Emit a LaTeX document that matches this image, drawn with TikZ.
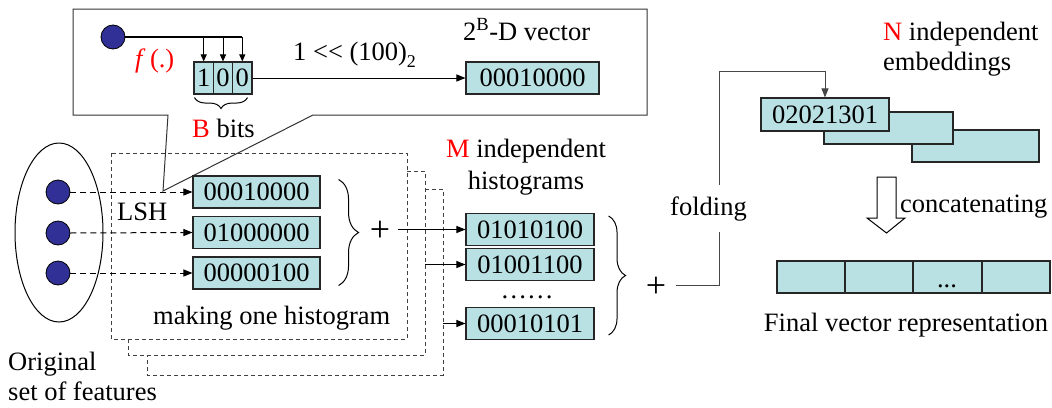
\documentclass[tikz,border=0pt]{standalone}
\usepackage{fontspec}
\setmainfont{Liberation Serif}
\usetikzlibrary{arrows.meta,decorations.pathreplacing,shapes.geometric}
\definecolor{boxfill}{RGB}{185,224,227}
\definecolor{dotblue}{RGB}{48,48,150}
\definecolor{lnk}{RGB}{70,70,70}
\begin{document}
\begin{tikzpicture}[x=1pt,y=-1pt,
  every node/.style={font=\fontsize{26.5}{30}\selectfont, inner sep=0pt},
  bitcell/.style={draw=black!85, line width=1.1pt, fill=boxfill, minimum height=32pt},
  featdot/.style={circle, draw=black, line width=0.8pt, fill=dotblue, minimum size=24pt},
  myarrow/.style={-{Triangle[length=9pt,width=7pt]}},
  smallarrow/.style={-{Triangle[length=7pt,width=6pt]}},
  dashline/.style={dash pattern=on 6pt off 4pt, line width=1pt},
  dbox/.style={dash pattern=on 4pt off 3pt, line width=1pt, draw=black!75},
  brc/.style={decorate, decoration={brace, amplitude=#1}, line width=1pt},
  brcm/.style={decorate, decoration={brace, mirror, amplitude=#1}, line width=1pt},
  basetext/.style={anchor=base west},
  plussign/.style={font=\fontsize{36}{40}\selectfont},
]
\useasboundingbox (0,0) rectangle (1052,407);

% ---------- callout ----------
\draw[line width=1pt, draw=black!80] (73,9) -- (647,9) -- (647,115) -- (313,115) -- (163,191) -- (168,115) -- (73,115) -- cycle;
\node[featdot] (c0) at (113,37) {};
\node[bitcell, minimum width=19.33pt] (b1) at (203.7,78) {1};
\node[bitcell, minimum width=19.33pt] (b2) at (223,78) {0};
\node[bitcell, minimum width=19.33pt] (b3) at (242.3,78) {0};
\draw[line width=2pt] (c0.east) -- (c0.east -| b3.north);
\foreach \b in {b1,b2,b3} \draw[smallarrow, line width=1pt] (\b.north |- c0.east) -- (\b.north);
\node[basetext, text=red] (fdot) at (135,67) {\textit{f}\,(.)};
\draw[brcm=11pt] ([shift={(1,3)}]b1.south west) -- ([shift={(-5,3)}]b3.south east);
\node[basetext] (bbits) at (192,137) {\textcolor{red}{B} bits};
\node[bitcell, minimum width=133pt] (vec) at (532.5,78) {00010000};
\draw[myarrow, line width=1pt] (b3.east) -- (vec.west);
\node[basetext] (shift) at (293,60) {1 {<}{<} (100)\raisebox{-7pt}{\fontsize{18}{20}\selectfont 2}};
\node[basetext] (vlabel) at (463,40) {2\textsuperscript{B}-D vector};

% ---------- dashed boxes ----------
\draw[dbox] (425,189) -- (443,189) -- (443,375) -- (147,375) -- (147,355);
\draw[dbox] (407,171) -- (425,171) -- (425,355) -- (128,355) -- (128,339);
\draw[dbox] (111,153) rectangle (407,339);
\coordinate (bB) at (425,264.5);
\coordinate (bC) at (443,323.5);

% ---------- features ----------
\node[ellipse, draw, line width=1pt, minimum width=88pt, minimum height=179pt] (fset) at (59,232.5) {};
\node[featdot] (f1) at (58,192) {};
\node[featdot] (f2) at (58,233) {};
\node[featdot] (f3) at (58,273) {};
\node[bitcell, minimum width=127pt] (h1) at (256.5,192) {00010000};
\node[bitcell, minimum width=127pt] (h2) at (256.5,232.5) {01000000};
\node[bitcell, minimum width=127pt] (h3) at (256.5,273) {00000100};
\draw[dashline, myarrow] (f1.east) -- (h1.west);
\draw[dashline, myarrow] (f2.east) -- (h2.west);
\draw[dashline, myarrow] (f3.east) -- (h3.west);
\node[basetext] (lsh) at (117,220) {LSH};
\node[basetext] (mk) at (153,324) {making one histogram};
\node[basetext] (orig1) at (8,370) {Original};
\node[basetext] (orig2) at (8,400) {set of features};

\draw[brc=20pt] ([shift={(18,4)}]h1.north east) -- ([shift={(18,-4)}]h3.south east);
\node[plussign] (plus1) at (380,231) {+};

% ---------- histograms ----------
\node[anchor=base] (mlab1) at (526,157) {\textcolor{red}{M} independent};
\node[anchor=base] (mlab2) at (526,189) {histograms};
\node[bitcell, minimum width=128pt] (m1) at (530,229.5) {01010100};
\node[bitcell, minimum width=128pt] (m2) at (530,264.5) {01001100};
\node[anchor=base] (mdots) at (527,298) {……};
\node[bitcell, minimum width=128pt] (m4) at (530,323.5) {00010101};
\draw[myarrow, line width=1pt] (plus1.east |- m1.west) ++(8,0) -- (m1.west);
\draw[myarrow, line width=1pt] (bB) -- (m2.west);
\draw[myarrow, line width=1pt] (bC) -- (m4.west);
\draw[brc=17pt] ([shift={(14,3)}]m1.north east) -- ([shift={(14,-5)}]m4.south east);
\node[plussign] (plus2) at (656,287) {+};

% ---------- embeddings ----------
\node[bitcell, minimum width=127pt, minimum height=32pt] (e3) at (975.5,146) {};
\node[bitcell, minimum width=129pt, minimum height=32pt] (e2) at (888.5,128) {};
\node[bitcell, minimum width=128pt, minimum height=33pt] (e1) at (825,114.5) {02021301};
\node[basetext] (nlab1) at (883,40) {\textcolor{red}{N} independent};
\node[basetext] (nlab2) at (883,70) {embeddings};

\coordinate (turn) at (719,285);
\coordinate (top) at (719,71);
\draw[myarrow, line width=1pt, draw=lnk] (plus2.east |- turn) ++(10,0) -- (turn) -- (top) -- (top -| e1.north) -- (e1.north);
\node[basetext, fill=white, inner xsep=1pt, inner ysep=11pt] (fold) at (669,215) {folding};

% ---------- concatenation ----------
\draw[line width=1pt, fill=white] (877,177) -- (896,177) -- (896,218) -- (905,218) -- (886.5,233) -- (867,218) -- (877,218) -- cycle;
\node[basetext] (concat) at (900,212) {concatenating};
\node[bitcell, minimum width=68pt] (v1) at (811,277) {};
\node[bitcell, minimum width=68pt] (v2) at (879,277) {};
\node[bitcell, minimum width=69pt] (v3) at (947.5,277) {};
\node[bitcell, minimum width=68pt] (v4) at (1016,277) {};
\node[anchor=base] (vdots) at (947,287) {...};
\node[anchor=base] (final) at (906,331) {Final vector representation};
\end{tikzpicture}
\end{document}
